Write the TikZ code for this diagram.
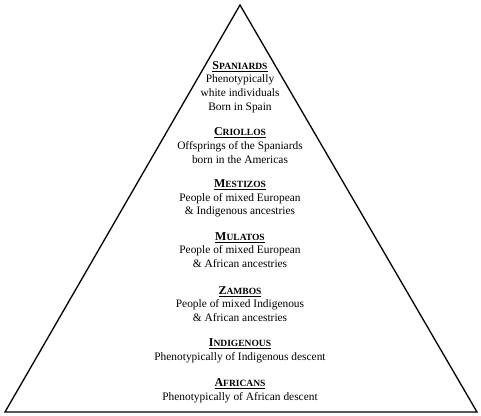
\documentclass[tikz,border=0pt]{standalone}
\usepackage{fontspec}
\setmainfont{Liberation Serif}
\newcommand{\ttl}[2]{\underline{\textbf{{\fontsize{12}{12}\selectfont #1}{\fontsize{9.5}{9.5}\selectfont #2}}}}
\begin{document}
\begin{tikzpicture}[x=1pt,y=1pt,
  blk/.style={align=center,inner sep=0pt,font=\fontsize{11.4}{13.6}\selectfont},
  edge/.style={line width=1.3pt,line join=miter}]
\useasboundingbox (0,0) rectangle (481,415);
\coordinate (apex) at (240,410);
\coordinate (bl) at (5,3);
\coordinate (br) at (477,3);
\draw[edge] (apex) -- (br) -- (bl) -- cycle;
\node[blk] (spa) at (240,328) {\ttl{S}{PANIARDS}\\Phenotypically\\white individuals\\Born in Spain};
\node[blk] (cri) at (240,269.5) {\ttl{C}{RIOLLOS}\\Offsprings of the Spaniards\\born in the Americas};
\node[blk] (mes) at (240,216.5) {\ttl{M}{ESTIZOS}\\People of mixed European\\\& Indigenous ancestries};
\node[blk] (mul) at (240,165) {\ttl{M}{ULATOS}\\People of mixed European\\\& African ancestries};
\node[blk] (zam) at (240,111) {\ttl{Z}{AMBOS}\\People of mixed Indigenous\\\& African ancestries};
\node[blk] (ind) at (240,64.5) {\ttl{I}{NDIGENOUS}\\Phenotypically of Indigenous descent};
\node[blk] (afr) at (240,24.5) {\ttl{A}{FRICANS}\\Phenotypically of African descent};
\end{tikzpicture}
\end{document}
